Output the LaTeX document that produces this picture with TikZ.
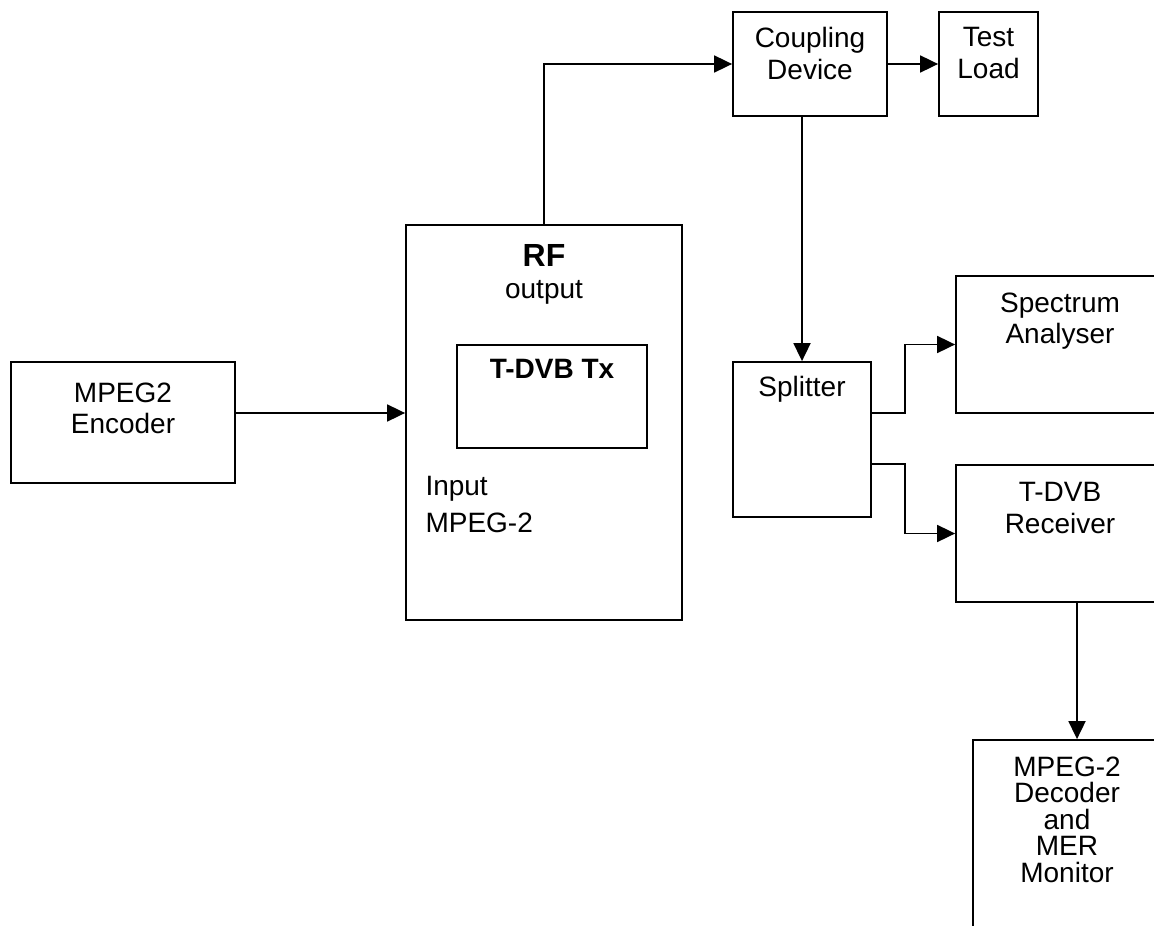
\documentclass[tikz,border=0pt]{standalone}
\usepackage{fontspec}
\setmainfont{Liberation Sans}
\usetikzlibrary{positioning, arrows.meta}

\begin{document}
\begin{tikzpicture}[x=0.5pt, y=-0.5pt,
    every node/.style={font=\fontsize{14}{15.85}\selectfont, align=center},
    box/.style={rectangle, draw, line width=0.9pt, inner sep=0pt},
    txt/.style={inner sep=0pt, anchor=north},
    arr/.style={->, >={Triangle[length=9pt, width=8.5pt]}, line width=0.9pt},
]
\useasboundingbox (0,0) rectangle (1154,925);
\clip (0,0) rectangle (1154,925);

% Encoder
\node[box, minimum width=112pt, minimum height=60.5pt] (enc) at (123,422.5) {};
\node[txt, below=10.5pt of enc.north] (encT) {MPEG2\\Encoder};

% Transmitter
\node[box, minimum width=138pt, minimum height=197.5pt] (tx) at (544,422.5) {};
\node[txt, below=10pt of tx.north] (txT) {{\fontsize{16}{16}\selectfont\bfseries RF}\\output};
\node[box, minimum width=95pt, minimum height=51.5pt] (txin) at (552,396.5) {};
\node[txt, below=7.5pt of txin.north, font=\fontsize{14}{15.85}\selectfont\bfseries] (txinT) {T-DVB Tx};
\node[txt, anchor=north west, align=left, font=\fontsize{14}{18.3}\selectfont] (inT)
  at ([xshift=10pt, yshift=-126pt]tx.north west) {Input\\MPEG-2};

% Top row
\node[box, minimum width=77pt, minimum height=52pt] (cpl) at (810,64) {};
\node[txt, below=8pt of cpl.north] (cplT) {Coupling\\Device};
\node[box, minimum width=49.5pt, minimum height=52pt] (load) at (988.5,64) {};
\node[txt, below=8pt of load.north] (loadT) {Test\\Load};

% Splitter and measuring side
\node[box, minimum width=69pt, minimum height=77.5pt] (split) at (802,439.5) {};
\node[txt, below=7.5pt of split.north] (splitT) {Splitter};
\node[box, minimum width=104pt, minimum height=68.5pt] (spec) at (1060,344.5) {};
\node[txt, below=8.5pt of spec.north] (specT) {Spectrum\\Analyser};
\node[box, minimum width=104pt, minimum height=68.5pt] (rx) at (1060,533.5) {};
\node[txt, below=9pt of rx.north] (rxT) {T-DVB\\Receiver};
\node[box, minimum width=94pt, minimum height=100pt] (dec) at (1067,840) {};
\node[txt, below=8.5pt of dec.north, font=\fontsize{14}{13.3}\selectfont] (decT)
  {MPEG-2\\Decoder\\and\\MER\\Monitor};

% Connectors
\draw[arr] ([yshift=4.75pt]enc.east) -- ([yshift=4.75pt]tx.west);
\draw[arr] (tx.north) |- (cpl.west);
\draw[arr] (cpl.east) -- (load.west);
\draw[arr] (split.north |- cpl.south) -- (split.north);
\draw[arr] ([yshift=13.25pt]split.east) -- ++(16.5pt,0) |- (spec.west);
\draw[arr] ([yshift=-12.25pt]split.east) -- ++(16.5pt,0) |- (rx.west);
\draw[arr] ([xshift=8.5pt]rx.south) -- ([xshift=8.5pt]rx.south |- dec.north);
\end{tikzpicture}
\end{document}
